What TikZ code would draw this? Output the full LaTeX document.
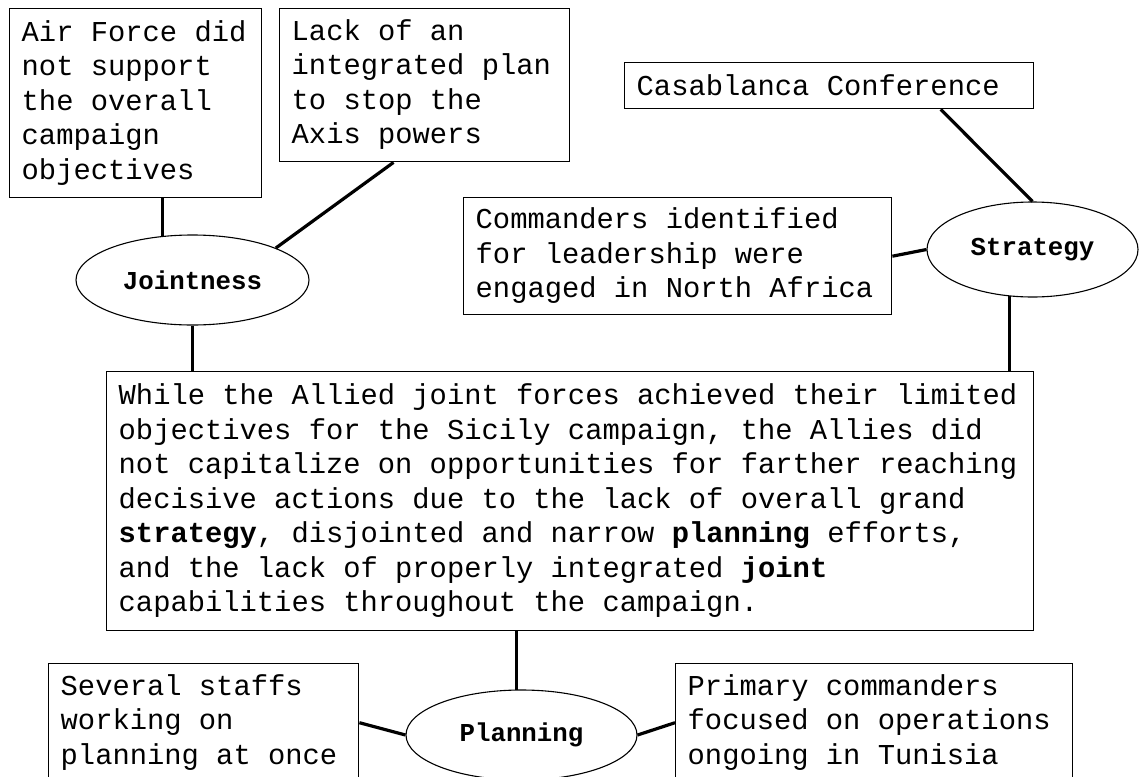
\documentclass[tikz,border=0pt]{standalone}
\usepackage{fontspec}
\usepackage{tikz}
\usetikzlibrary{shapes.geometric}
\newfontfamily\cour{Liberation Mono}
\newcommand\notefont{\fontsize{28.8}{34.5}\selectfont\cour}
\newcommand\themefont{\fontsize{25.8}{30}\selectfont\cour\bfseries}

\begin{document}
\begin{tikzpicture}[x=1pt,y=-1pt,
    note/.style={draw,line width=1.4pt,rectangle,anchor=north west,
      inner xsep=12pt,inner ysep=0pt,font=\notefont},
    theme/.style={draw,line width=1.1pt,ellipse,inner sep=0pt,font=\themefont},
    link/.style={line width=3.2pt}]
    \useasboundingbox (0,0) rectangle (1139,776);
    \fill[white] (0,0) rectangle (1139,776);
    \clip (0,0) rectangle (1139,776);
    % jointness
    \node[note,minimum height=189pt] (airforce) at (9,8)
      {\begin{tabular}{@{}l@{}}\makebox[228pt][l]{Air Force did}\\not support\\the overall\\campaign\\objectives\end{tabular}};
    \node[note,minimum height=153pt] (lackplan) at (279,8)
      {\begin{tabular}{@{}l@{}}\makebox[266pt][l]{Lack of an}\\integrated plan\\to stop the\\Axis powers\end{tabular}};
    \node[theme,minimum width=233pt,minimum height=90pt] (jointness) at (192.5,280) {Jointness};
    % strategy
    \node[note,minimum height=46pt] (casablanca) at (624,62)
      {\makebox[385pt][l]{Casablanca Conference}};
    \node[note,minimum height=117pt] (commanders) at (463,197)
      {\begin{tabular}{@{}l@{}}\makebox[404pt][l]{Commanders identified}\\for leadership were\\engaged in North Africa\end{tabular}};
    \node[theme,minimum width=211pt,minimum height=95pt] (strategy) at (1032.5,249.5) {Strategy};
    % thesis
    \node[note,minimum height=259pt] (thesis) at (106,371)
      {\begin{tabular}{@{}l@{}}
       \makebox[903pt][l]{While the Allied joint forces achieved their limited}\\
       objectives for the Sicily campaign, the Allies did\\
       not capitalize on opportunities for farther reaching\\
       decisive actions due to the lack of overall grand\\
       \textbf{strategy}, disjointed and narrow \textbf{planning} efforts,\\
       and the lack of properly integrated \textbf{joint}\\
       capabilities throughout the campaign.
       \end{tabular}};
    % planning
    \node[theme,minimum width=231pt,minimum height=90pt] (planning) at (521.5,735) {Planning};
    \node[note,minimum height=118pt] (staffs) at (48,663)
      {\begin{tabular}{@{}l@{}}\makebox[286pt][l]{Several staffs}\\working on\\planning at once\end{tabular}};
    \node[note,minimum height=118pt] (primary) at (675,663)
      {\begin{tabular}{@{}l@{}}\makebox[373pt][l]{Primary commanders}\\focused on operations\\ongoing in Tunisia\end{tabular}};
    % links
    \draw[link] (jointness.124) -- (jointness.124 |- airforce.south);
    \draw[link] (lackplan.248) -- (jointness.21);
    \draw[link] (casablanca.348) -- (strategy.north);
    \draw[link] (commanders.east) -- (strategy.west);
    \draw[link] (jointness.south) -- (jointness.south |- thesis.north);
    \draw[link] (strategy.244) -- (strategy.244 |- thesis.north);
    \draw[link] (planning.96) -- (planning.96 |- thesis.south);
    \draw[link] (staffs.east) -- (planning.west);
    \draw[link] (primary.west) -- (planning.east);
\end{tikzpicture}
\end{document}
